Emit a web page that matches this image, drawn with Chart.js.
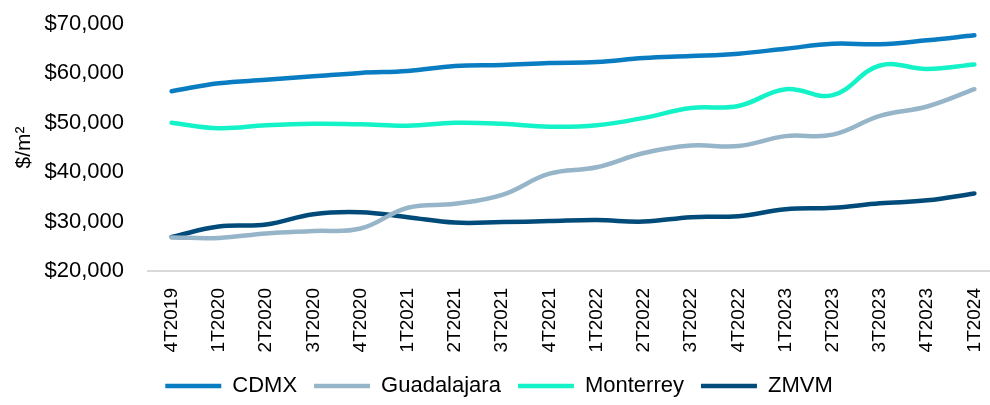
<!DOCTYPE html>
<html>
<head>
<meta charset="utf-8">
<script src="https://cdn.jsdelivr.net/npm/chart.js@4.4.1/dist/chart.umd.min.js"></script>
<style>
  html, body { margin: 0; padding: 0; background: #fff; overflow: hidden; }
  #wrap { width: 998px; height: 405px; position: relative; }
</style>
</head>
<body>
<div id="wrap"><canvas id="priceChart"></canvas></div>
<script>
var quarters = ['4T2019', '1T2020', '2T2020', '3T2020', '4T2020', '1T2021', '2T2021', '3T2021', '4T2021',
    '1T2022', '2T2022', '3T2022', '4T2022', '1T2023', '2T2023', '3T2023', '4T2023', '1T2024'];
var cdmx = [56400, 58000, 58700, 59400, 60100, 60500, 61500, 61700, 62100, 62300, 63100, 63500, 64000, 65000, 66000, 65900, 66700, 67700];
var guadalajara = [26800, 26700, 27600, 28100, 28600, 32800, 33600, 35400, 39700, 41000, 43900, 45400, 45300, 47300, 47600, 51400, 53300, 56800];
var monterrey = [50000, 48900, 49500, 49800, 49700, 49400, 50000, 49800, 49200, 49500, 51000, 53000, 53400, 56800, 55600, 61600, 60900, 61800];
var zmvm = [26900, 29000, 29400, 31500, 31900, 30900, 29800, 29900, 30100, 30300, 30000, 30900, 31100, 32500, 32800, 33700, 34300, 35700];

var sans = "'Liberation Sans', Arial, sans-serif";

function series(label, data, color) {
    return {
        label: label,
        data: data,
        borderColor: color,
        backgroundColor: color,
        borderWidth: 4.5,
        borderCapStyle: 'round',
        tension: 0.4,
        pointRadius: 0,
        fill: false
    };
}

var ctx = document.getElementById('priceChart').getContext('2d');
var priceChart = new Chart(ctx, {
    type: 'line',
    data: {
        labels: quarters,
        datasets: [
            series('CDMX', cdmx, '#0a7cc2'),
            series('Guadalajara', guadalajara, '#97b5c9'),
            series('Monterrey', monterrey, '#14f2c8'),
            series('ZMVM', zmvm, '#004b7a')
        ]
    },
    options: {
        responsive: true,
        maintainAspectRatio: false,
        animation: false,
        layout: { padding: { left: 0, right: 0, top: 24, bottom: -2 } },
        scales: {
            x: {
                offset: true,
                grid: { display: false, drawTicks: false },
                border: { display: true, color: '#d9d9d9', width: 2 },
                ticks: {
                    color: '#000',
                    font: { family: sans, size: 19 },
                    minRotation: 90,
                    maxRotation: 90,
                    autoSkip: false,
                    padding: 17
                },
                afterFit: function (scale) {
                    scale.height = 87;
                    scale.paddingLeft = 0;
                    scale.paddingRight = 0;
                }
            },
            y: {
                min: 20000,
                max: 70000,
                grid: { display: false, drawTicks: false },
                border: { display: false },
                ticks: {
                    stepSize: 10000,
                    color: '#000',
                    padding: 24,
                    font: { family: sans, size: 22 },
                    callback: function (v) { return '$' + v.toLocaleString('en-US'); }
                },
                title: {
                    display: true,
                    text: '$/m²',
                    color: '#000',
                    font: { family: sans, size: 21 },
                    padding: 12
                },
                afterFit: function (scale) {
                    scale.width = 148;
                    scale.paddingTop = 0;
                    scale.paddingBottom = 0;
                }
            }
        },
        plugins: {
            legend: {
                position: 'bottom',
                labels: {
                    usePointStyle: true,
                    pointStyle: 'line',
                    pointStyleWidth: 56,
                    color: '#000',
                    font: { family: sans, size: 22 },
                    padding: 17
                }
            },
            tooltip: { enabled: false }
        }
    }
});
</script>
</body>
</html>
